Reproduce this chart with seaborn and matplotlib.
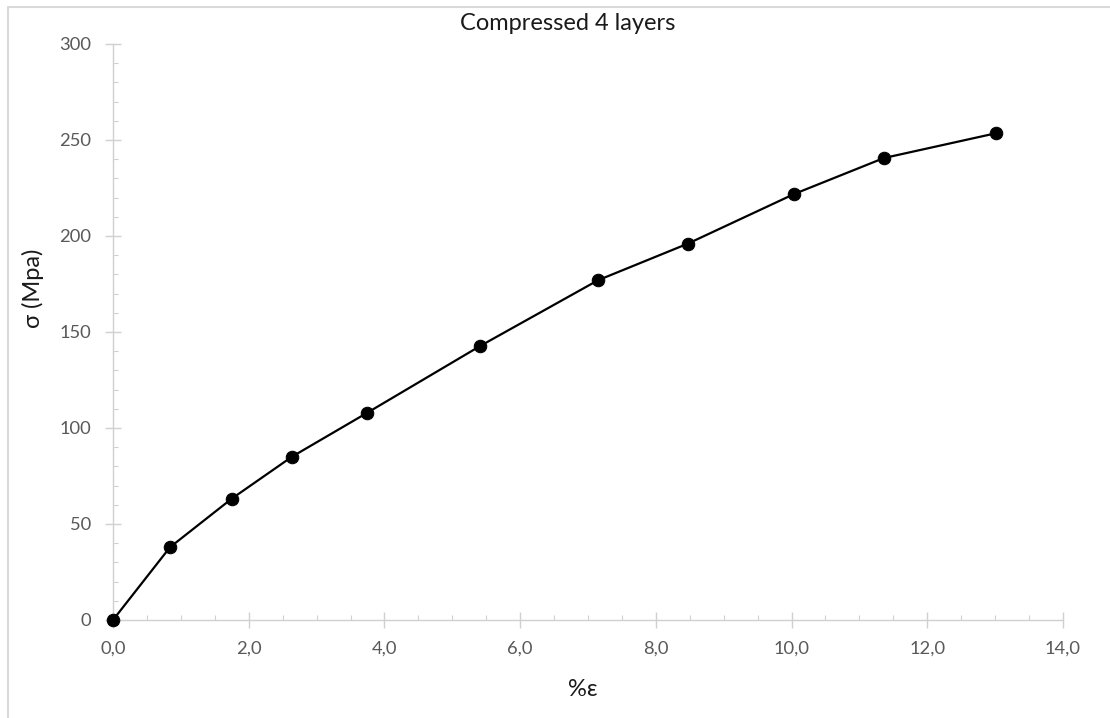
import matplotlib
matplotlib.use("Agg")
import matplotlib.pyplot as plt
import seaborn as sns
import pandas as pd
from matplotlib.ticker import MultipleLocator, FuncFormatter
from matplotlib.lines import Line2D

strain = [0.0, 0.84, 1.75, 2.64, 3.74, 5.41, 7.15, 8.47, 10.04, 11.36, 13.01]
stress = [0.0, 37.9, 63.2, 85.1, 107.8, 142.7, 177.0, 196.0, 221.9, 240.6, 253.5]
title = "Compressed 4 layers"
xlabel = "%ε"
ylabel = "σ (Mpa)"

sns.set_theme(style="white")
plt.rcParams['font.family'] = ['Lato', 'DejaVu Sans']

df = pd.DataFrame({"strain": strain, "stress": stress})

fig = plt.figure(figsize=(11.1, 7.18), dpi=100)
ax = fig.add_axes([113/1110, 1-620/718, 950/1110, 576/718])

sns.lineplot(data=df, x="strain", y="stress", ax=ax, color="black", linewidth=1.6,
             marker="o", markersize=9, markeredgecolor="black", markerfacecolor="black",
             clip_on=False, zorder=5)

ax.set_xlim(0, 14)
ax.set_ylim(0, 300)
ax.xaxis.set_major_locator(MultipleLocator(2))
ax.xaxis.set_minor_locator(MultipleLocator(0.5))
ax.yaxis.set_major_locator(MultipleLocator(50))
ax.yaxis.set_minor_locator(MultipleLocator(10))
ax.xaxis.set_major_formatter(FuncFormatter(lambda v, p: f"{v:.1f}".replace(".", ",")))
ax.yaxis.set_major_formatter(FuncFormatter(lambda v, p: f"{int(v)}"))

axcol = "#d0d0d0"
for s in ["top", "right"]:
    ax.spines[s].set_visible(False)
for s in ["left", "bottom"]:
    ax.spines[s].set_color(axcol)
    ax.spines[s].set_linewidth(1.0)

ax.tick_params(axis="both", which="major", direction="inout", length=11, width=1,
               color=axcol, labelcolor="#595959", labelsize=13.2)
ax.tick_params(axis="both", which="minor", direction="in", length=3.5, width=0.8,
               color=axcol)
ax.tick_params(axis="x", which="major", pad=9)
ax.tick_params(axis="y", which="major", pad=10)
ax.tick_params(axis="both", which="both", bottom=True, left=True)
ax.set_xlabel("")
ax.set_ylabel("")
ax.grid(False)

fig.text(568/1110, 1-24/718, title, ha="center", va="center", fontsize=17, color="#1a1a1a")
fig.text(583/1110, 1-690/718, xlabel, ha="center", va="center", fontsize=17, color="#1a1a1a")
fig.text(33/1110, 1-288/718, ylabel, ha="center", va="center", rotation=90, fontsize=17, color="#1a1a1a")

# chart-area border (top and left edges visible)
fig.add_artist(Line2D([8/1110, 8/1110], [0, 1-7/718], transform=fig.transFigure, color="#d9d9d9", linewidth=1.5))
fig.add_artist(Line2D([8/1110, 1], [1-7/718, 1-7/718], transform=fig.transFigure, color="#d9d9d9", linewidth=1.5))

fig.savefig("out.png", dpi=100)
